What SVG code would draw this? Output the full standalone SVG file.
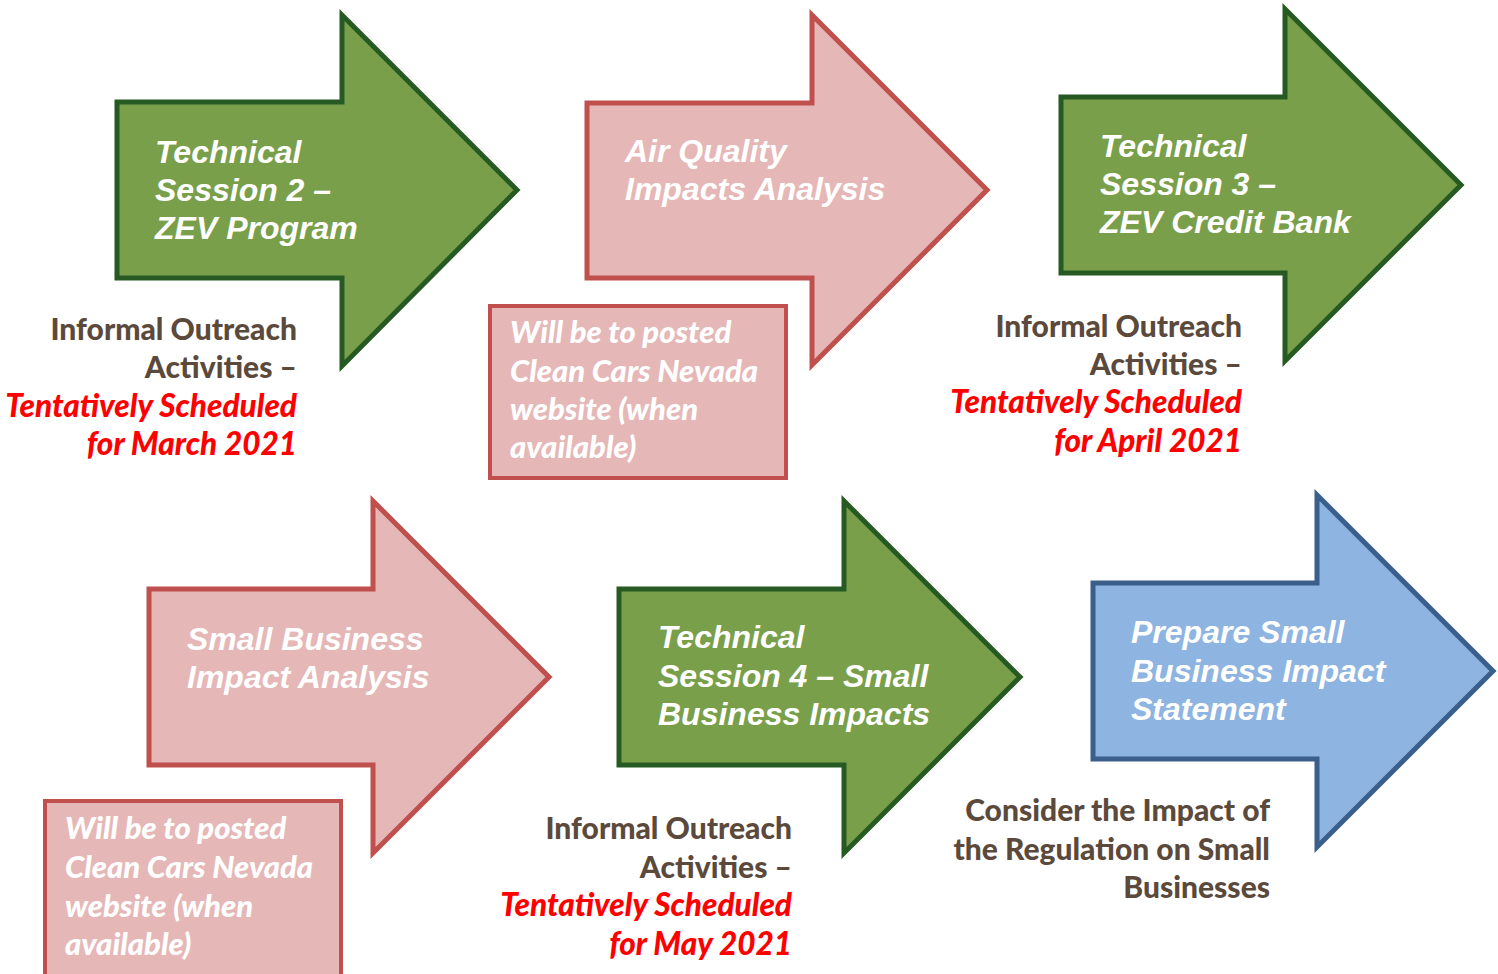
<svg xmlns="http://www.w3.org/2000/svg" width="1498" height="974" viewBox="0 0 1498 974">
<style>
.green{fill:#799f4b;stroke:#275a23;stroke-width:5;stroke-linejoin:miter}
.pink{fill:#e5b7b7;stroke:#c0504d;stroke-width:5;stroke-linejoin:miter}
.blue{fill:#8eb4e2;stroke:#3a5f8b;stroke-width:5;stroke-linejoin:miter}
.pinkbox{fill:#e5b7b7;stroke:#c0504d;stroke-width:4}
.lbl{font-family:"Liberation Sans",Arial,sans-serif;font-weight:bold;font-style:italic;font-size:32px;fill:#ffffff}
.note{font-family:Lato,"Liberation Sans",sans-serif;font-weight:900;font-size:30px;fill:#5b4a3c;text-anchor:end}
.red{font-style:italic;fill:#ff0000;font-size:31.5px}
.boxtxt{font-family:Lato,"Liberation Sans",sans-serif;font-weight:900;font-style:italic;font-size:31px;fill:#ffffff}
</style>
<rect width="1498" height="974" fill="#ffffff"/>
<g id="connectors"></g>
<g id="node-ts2">
<polygon class="green" points="117,102 342,102 342,15 517,190 342,366 342,278 117,278"/>
<text class="lbl"><tspan x="155" y="163">Technical</tspan><tspan x="155" y="201">Session 2 –</tspan><tspan x="155" y="239">ZEV Program</tspan></text>
</g>
<g id="node-note1">
<text class="note"><tspan x="297" y="340">Informal Outreach</tspan><tspan x="297" y="378">Activities –</tspan><tspan x="297" y="417" class="red">Tentatively Scheduled</tspan><tspan x="297" y="455" class="red">for March 2021</tspan></text>
</g>
<g id="node-aq">
<polygon class="pink" points="587,103 812,103 812,15 987,190 812,365 812,278 587,278"/>
<text class="lbl"><tspan x="625" y="162">Air Quality</tspan><tspan x="625" y="200">Impacts Analysis</tspan></text>
</g>
<g id="node-box1">
<rect class="pinkbox" x="490" y="306" width="296" height="172"/>
<text class="boxtxt"><tspan x="510" y="343">Will be to posted</tspan><tspan x="510" y="382">Clean Cars Nevada</tspan><tspan x="510" y="420">website (when</tspan><tspan x="510" y="458">available)</tspan></text>
</g>
<g id="node-ts3">
<polygon class="green" points="1061,97 1285,97 1285,9 1461,185 1285,361 1285,273 1061,273"/>
<text class="lbl"><tspan x="1100" y="157">Technical</tspan><tspan x="1100" y="195">Session 3 –</tspan><tspan x="1100" y="233">ZEV Credit Bank</tspan></text>
</g>
<g id="node-note3">
<text class="note"><tspan x="1242" y="337">Informal Outreach</tspan><tspan x="1242" y="375">Activities –</tspan><tspan x="1242" y="413" class="red">Tentatively Scheduled</tspan><tspan x="1242" y="452" class="red">for April 2021</tspan></text>
</g>
<g id="node-sbia">
<polygon class="pink" points="149,589 373,589 373,501 549,677 373,853 373,765 149,765"/>
<text class="lbl"><tspan x="187" y="650">Small Business</tspan><tspan x="187" y="688">Impact Analysis</tspan></text>
</g>
<g id="node-box2">
<rect class="pinkbox" x="45" y="801" width="296" height="185"/>
<text class="boxtxt"><tspan x="65" y="839">Will be to posted</tspan><tspan x="65" y="878">Clean Cars Nevada</tspan><tspan x="65" y="917">website (when</tspan><tspan x="65" y="955">available)</tspan></text>
</g>
<g id="node-ts4">
<polygon class="green" points="619,589 844,589 844,501 1020,677 844,853 844,765 619,765"/>
<text class="lbl"><tspan x="658" y="648">Technical</tspan><tspan x="658" y="687">Session 4 – Small</tspan><tspan x="658" y="725">Business Impacts</tspan></text>
</g>
<g id="node-note5">
<text class="note"><tspan x="792" y="839">Informal Outreach</tspan><tspan x="792" y="878">Activities –</tspan><tspan x="792" y="916" class="red">Tentatively Scheduled</tspan><tspan x="792" y="955" class="red">for May 2021</tspan></text>
</g>
<g id="node-sbis">
<polygon class="blue" points="1093,583 1317,583 1317,495 1493,671 1317,847 1317,759 1093,759"/>
<text class="lbl"><tspan x="1131" y="643">Prepare Small</tspan><tspan x="1131" y="682">Business Impact</tspan><tspan x="1131" y="720">Statement</tspan></text>
</g>
<g id="node-note6">
<text class="note"><tspan x="1270" y="821">Consider the Impact of</tspan><tspan x="1270" y="860">the Regulation on Small</tspan><tspan x="1270" y="898">Businesses</tspan></text>
</g>
</svg>
